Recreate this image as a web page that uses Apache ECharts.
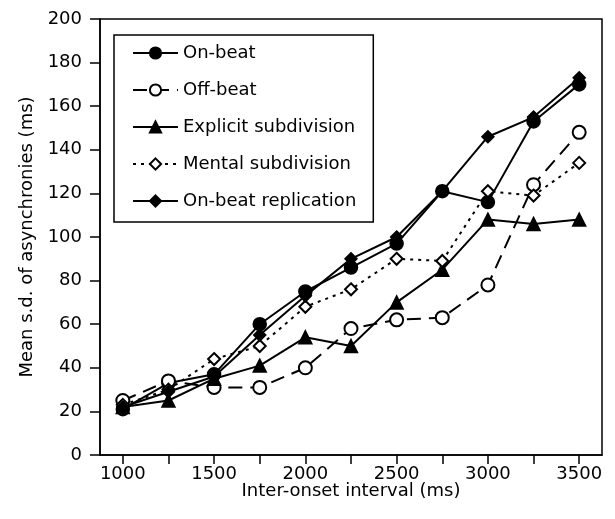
<!DOCTYPE html>
<html>
<head>
<meta charset="utf-8">
<style>
  html, body { margin: 0; padding: 0; background: #fff; }
  #chart { width: 615px; height: 519px; }
</style>
<script src="https://cdn.jsdelivr.net/npm/echarts@6/dist/echarts.min.js"></script>
</head>
<body>
<div id="chart"></div>
<script>
// inter-onset intervals (ms)
const ioi = [1000, 1250, 1500, 1750, 2000, 2250, 2500, 2750, 3000, 3250, 3500];
const xTicks = [1000, 1250, 1500, 1750, 2000, 2250, 2500, 2750, 3000, 3250, 3500];
const xLabels = [1000, 1500, 2000, 2500, 3000, 3500];

// mean s.d. of asynchronies (ms)
const onBeat = [21, 33, 37, 60, 75, 86, 97, 121, 116, 153, 170];
const offBeat = [25, 34, 31, 31, 40, 58, 62, 63, 78, 124, 148];
const explicitSub = [22, 25, 35, 41, 54, 50, 70, 85, 108, 106, 108];
const mentalSub = [23, 30, 44, 50, 68, 76, 90, 89, 121, 119, 134];
const onBeatRep = [22, 29, 36, 55, 73, 90, 100, 121, 146, 155, 173];

const font = 'DejaVu Sans';
const pairs = arr => ioi.map((x, i) => [x, arr[i]]);

function mkSeries(name, data, symbol, size, lineType) {
  return {
    name,
    type: 'line',
    data: pairs(data),
    symbol,
    symbolSize: size,
    color: '#000',
    itemStyle: { color: '#000', borderColor: '#000', borderWidth: 1.5 },
    lineStyle: { color: '#000', width: 2, type: lineType },
    emphasis: { disabled: true },
    animation: false
  };
}

const chart = echarts.init(document.getElementById('chart'));

const option = {
  backgroundColor: '#fff',
  animation: false,
  grid: {
    left: 100, right: 13, top: 19, bottom: 64,
    show: true, borderColor: '#000', borderWidth: 1.5, backgroundColor: 'transparent'
  },
  legend: {
    orient: 'vertical',
    left: 114,
    top: 35,
    padding: [9, 17, 12, 18],
    itemGap: 19,
    itemWidth: 45,
    itemHeight: 14,
    backgroundColor: '#fff',
    borderColor: '#000',
    borderWidth: 1.5,
    textStyle: { fontFamily: font, fontSize: 18, color: '#000' },
    data: ['On-beat', 'Off-beat', 'Explicit subdivision', 'Mental subdivision', 'On-beat replication']
  },
  xAxis: {
    type: 'value',
    min: 875,
    max: 3625,
    name: 'Inter-onset interval (ms)',
    nameLocation: 'middle',
    nameGap: 27,
    nameMoveOverlap: false,
    nameTextStyle: { fontFamily: font, fontSize: 18, color: '#000', verticalAlign: 'top' },
    axisLine: { show: true, lineStyle: { color: '#000', width: 1.5 } },
    axisTick: { show: true, inside: false, length: 9, customValues: xTicks, lineStyle: { color: '#000', width: 1.5 } },
    axisLabel: { customValues: xLabels, formatter: v => String(v), margin: 10, fontFamily: font, fontSize: 18, color: '#000' },
    splitLine: { show: false }
  },
  yAxis: {
    type: 'value',
    min: 0,
    max: 200,
    interval: 20,
    name: 'Mean s.d. of asynchronies (ms)',
    nameLocation: 'middle',
    nameGap: 60,
    nameTextStyle: { fontFamily: font, fontSize: 18, color: '#000' },
    axisLine: { show: true, lineStyle: { color: '#000', width: 1.5 } },
    axisTick: { show: true, inside: false, length: 10, lineStyle: { color: '#000', width: 1.5 } },
    axisLabel: { margin: 18, fontFamily: font, fontSize: 18, color: '#000' },
    splitLine: { show: false }
  },
  series: [
    mkSeries('On-beat', onBeat, 'circle', 13, 'solid'),
    mkSeries('Off-beat', offBeat, 'emptyCircle', 13, [14, 8]),
    mkSeries('Explicit subdivision', explicitSub, 'triangle', 13, 'solid'),
    mkSeries('Mental subdivision', mentalSub, 'emptyDiamond', 12, [3, 5]),
    mkSeries('On-beat replication', onBeatRep, 'diamond', 12, 'solid')
  ]
};

chart.setOption(option);
</script>
</body>
</html>
